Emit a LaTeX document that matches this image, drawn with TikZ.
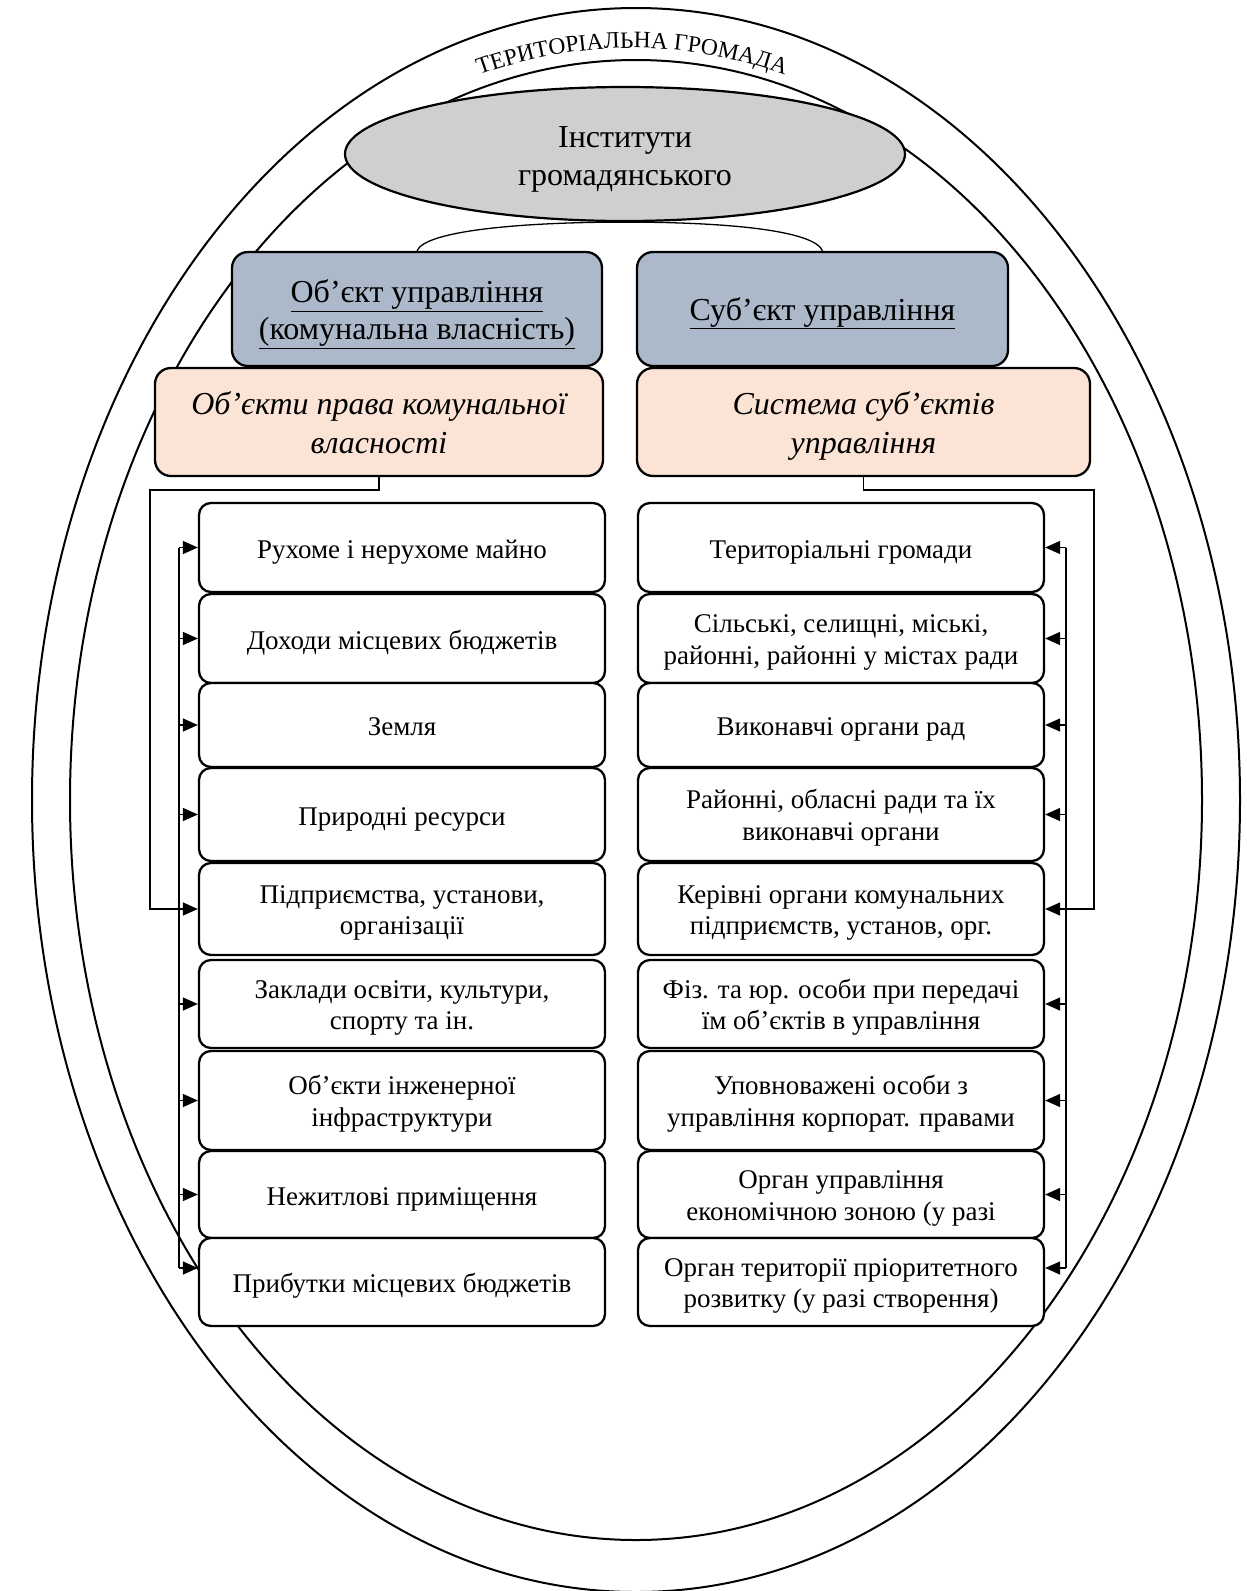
\documentclass[tikz,border=0pt]{standalone}
\usepackage{fontspec}
\setmainfont{Liberation Serif}
\usetikzlibrary{arrows.meta,decorations.text,shapes.geometric}
\definecolor{bluegray}{HTML}{ACB9CA}
\definecolor{peachc}{HTML}{FBE4D5}
\definecolor{grayel}{HTML}{D0CECE}
\newcommand\terrfont{\fontsize{23.5}{25}\selectfont}
\newcommand\twol[2]{\begin{tabular}[t]{@{}c@{}}#1\\#2\end{tabular}}
\begin{document}
\begin{tikzpicture}[x=1pt,y=1pt,
  ell/.style={draw, line width=2pt},
  conn/.style={draw, line width=1.3pt},
  arr/.style={conn, -{Triangle[length=15pt,width=13pt]}},
  lbox/.style={draw, line width=2.3pt, rounded corners=12pt, fill=white, minimum width=406pt, align=center, inner sep=0pt,
    font=\fontsize{27}{31.5}\selectfont,
    execute at begin node={\rule{0pt}{29.5pt}}, execute at end node={\rule[-8pt]{0pt}{8pt}}},
  topbox/.style={draw, line width=2.3pt, rounded corners=16pt, fill=bluegray, align=center, inner sep=0pt, minimum height=114pt,
    font=\fontsize{32}{37}\selectfont,
    execute at begin node={\rule{0pt}{35.7pt}}, execute at end node={\rule[-13pt]{0pt}{13pt}}},
  peachbox/.style={draw, line width=2.3pt, rounded corners=16pt, fill=peachc, align=center, inner sep=0pt, minimum height=108pt,
    font=\fontsize{32}{38.5}\selectfont\itshape,
    execute at begin node={\rule{0pt}{35.7pt}}, execute at end node={\rule[-9pt]{0pt}{9pt}}},
  inst/.style={draw, line width=2.2pt, ellipse, fill=grayel, minimum width=560pt, minimum height=134pt, inner sep=0pt, align=center,
    font=\fontsize{32}{37.5}\selectfont,
    execute at begin node={\rule{0pt}{36pt}}, execute at end node={\rule[-8.5pt]{0pt}{8.5pt}}}
]
\useasboundingbox (0,0) rectangle (1247,-1591);
% outer and inner ovals
\draw[ell] (636,-800) ellipse [x radius=604, y radius=792];
\draw[ell] (636,-800) ellipse [x radius=566, y radius=740];
% curved title
\path[decorate, decoration={text along path, text={|\terrfont|ТЕРИТОРІАЛЬНА ГРОМАДА}, text align=center}]
  (632,-800) ++(109:575 and 752) arc[start angle=109, end angle=71, x radius=575, y radius=752];
% institutions ellipse
\node[inst] (gray) at (625,-154) {\twol{Інститути}{громадянського}};
% top boxes
\node[topbox, minimum width=370pt] (objL) at (417,-309) {\twol{\underline{Об’єкт управління}}{\underline{(комунальна власність)}}};
\node[topbox, minimum width=371pt] (subjR) at (822.5,-309) {\underline{Суб’єкт управління}};
\draw[conn] (objL.north) .. controls +(8,20) and +(-105,0) .. (gray.south)
  .. controls +(105,0) and +(-8,20) .. (subjR.north);
\node[peachbox, minimum width=448pt] (peachL) at (379,-422) {\twol{Об’єкти права комунальної}{власності}};
\node[peachbox, minimum width=453pt] (peachR) at (863.5,-422) {\twol{Система суб’єктів}{управління}};
% left list
\node[lbox, minimum height=89pt] (L1) at (402,-547.5) {Рухоме і нерухоме майно};
\node[lbox, minimum height=89pt] (L2) at (402,-638.5) {Доходи місцевих бюджетів};
\node[lbox, minimum height=84pt] (L3) at (402,-725) {Земля};
\node[lbox, minimum height=93pt] (L4) at (402,-814.5) {Природні ресурси};
\node[lbox, minimum height=92pt] (L5) at (402,-909) {\twol{Підприємства, установи,}{організації}};
\node[lbox, minimum height=88pt] (L6) at (402,-1004) {\twol{Заклади освіти, культури,}{спорту та ін.}};
\node[lbox, minimum height=99pt] (L7) at (402,-1100.5) {\twol{Об’єкти інженерної}{інфраструктури}};
\node[lbox, minimum height=87pt] (L8) at (402,-1194.5) {Нежитлові приміщення};
\node[lbox, minimum height=88pt] (L9) at (402,-1282) {Прибутки місцевих бюджетів};
% right list
\node[lbox, minimum height=89pt] (R1) at (841,-547.5) {Територіальні громади};
\node[lbox, minimum height=89pt] (R2) at (841,-638.5) {\twol{Сільські, селищні, міські,}{районні, районні у містах ради}};
\node[lbox, minimum height=84pt] (R3) at (841,-725) {Виконавчі органи рад};
\node[lbox, minimum height=93pt] (R4) at (841,-814.5) {\twol{Районні, обласні ради та їх}{виконавчі органи}};
\node[lbox, minimum height=92pt] (R5) at (841,-909) {\twol{Керівні органи комунальних}{підприємств, установ, орг.}};
\node[lbox, minimum height=88pt] (R6) at (841,-1004) {\twol{Фіз. та юр. особи при передачі}{їм об’єктів в управління}};
\node[lbox, minimum height=99pt] (R7) at (841,-1100.5) {\twol{Уповноважені особи з}{управління корпорат. правами}};
\node[lbox, minimum height=87pt] (R8) at (841,-1194.5) {\twol{Орган управління}{економічною зоною (у разі}};
\node[lbox, minimum height=88pt] (R9) at (841,-1282) {\twol{Орган території пріоритетного}{розвитку (у разі створення)}};
% connectors left
\coordinate (jl) at (150,-490);
\coordinate (busL) at (179,0);
\coordinate (bl9) at (179,-1268);
\draw[arr] (peachL.south) |- (jl) |- (L5.west);
\draw[conn] (L1.west -| busL) -- (bl9);
\foreach \i in {1,2,3,4,6,7,8} {\draw[arr] (L\i.west -| busL) -- (L\i.west);}
\draw[arr] (bl9) -- (bl9 -| L9.west);
% connectors right
\coordinate (jr) at (1094,-490);
\coordinate (busR) at (1066,0);
\coordinate (br9) at (1066,-1268);
\draw[arr] (peachR.south) |- (jr) |- (R5.east);
\draw[conn] (R1.east -| busR) -- (br9);
\foreach \i in {1,2,3,4,6,7,8} {\draw[arr] (R\i.east -| busR) -- (R\i.east);}
\draw[arr] (br9) -- (br9 -| R9.east);
\end{tikzpicture}
\end{document}
